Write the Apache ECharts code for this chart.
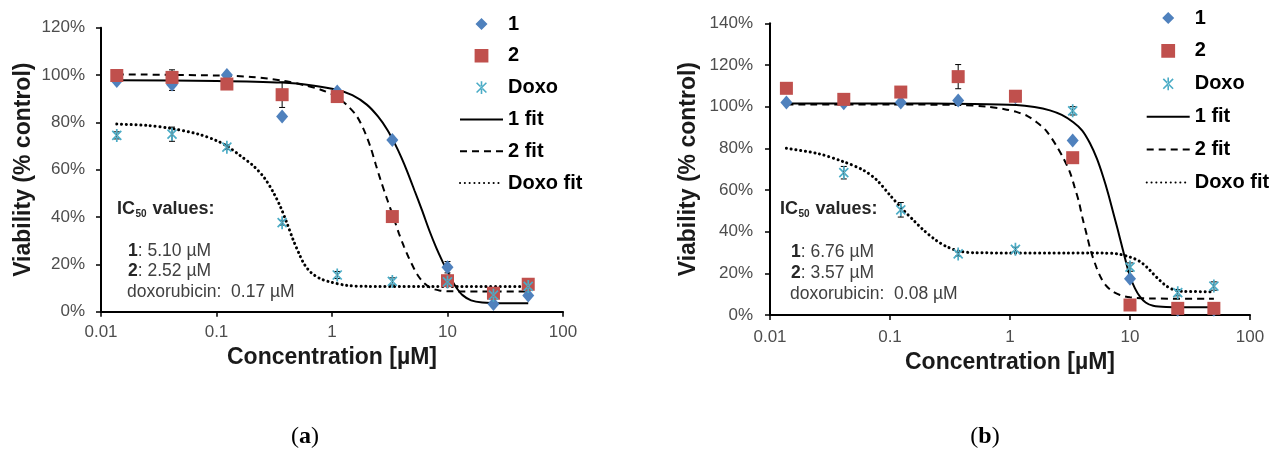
<!DOCTYPE html>
<html>
<head>
<meta charset="utf-8">
<script src="https://cdn.jsdelivr.net/npm/echarts@6/dist/echarts.min.js"></script>
<style>
html,body{margin:0;padding:0;background:#fff;}
#c{width:1271px;height:454px;}
</style>
</head>
<body>
<div id="c"></div>
<script>
// ---------- data ----------
const conc = [0.0137, 0.0412, 0.123, 0.37, 1.11, 3.33, 10, 25, 50];
const xTickLabels = ['0.01', '0.1', '1', '10', '100'];
const legendNames = ['1', '2', 'Doxo', '1 fit', '2 fit', 'Doxo fit'];

// panel (a)
const a1    = [97.5, 96, 100, 82.5, 93, 72.5, 18.8, 3.3, 6.8];
const a2    = [99.8, 99, 96.2, 91.7, 90.9, 40.2, 13.1, 7.8, 11.6];
const aDoxo = [74.5, 75, 69.5, 37.6, 15.5, 12.8, 12.6, 7.0, 10.7];
const errA1    = [0, 2.5, 0, 0, 0, 0, 2.4, 0, 0];
const errA2    = [0, 3.2, 0, 5.4, 0, 0, 0, 0, 0];
const errADoxo = [1.5, 3, 1, 1, 1.5, 1.5, 1.5, 1.5, 1.5];
const fitA1 = [[0.0137,97.8],[0.1,97.5],[0.37,96.8],[0.7,95.5],[1.1,93.8],[1.5,91.5],[2,87.5],[2.5,82.5],[3,77],[3.5,71],[4,65],[4.5,59],[5.2,51],[6,43],[7,34],[8,27],[9,21.5],[10,17],[11,13],[12,10],[13.5,7],[16,4.8],[20,3.9],[30,3.6],[50,3.6]];
const fitA2 = [[0.0137,100.3],[0.1,99.8],[0.2,99.2],[0.38,97.6],[0.6,95.5],[0.8,93.8],[1.1,90.8],[1.4,86.5],[1.65,82.4],[1.9,76.5],[2.15,69.7],[2.4,62],[2.62,56],[3,47.5],[3.4,40],[3.8,33],[4.2,27.5],[4.6,23],[5.1,18.5],[5.6,15],[6.2,12.3],[7.2,10],[8.5,9],[11,8.6],[50,8.5]];
const fitADoxo = [[0.0137,79.3],[0.025,78.7],[0.04,77.5],[0.07,75],[0.1,72.3],[0.123,70],[0.16,66],[0.21,61.5],[0.26,56.5],[0.31,50.5],[0.36,44],[0.406,37.6],[0.46,30.5],[0.53,23.5],[0.58,19.8],[0.66,16.5],[0.79,14],[0.96,12.6],[1.35,11.1],[2,10.7],[50,10.6]];

// panel (b)
const b1    = [102, 101.6, 102, 103, 104.5, 83.7, 17.4, 2.5, 2.5];
const b2    = [108.8, 103.5, 107, 114.4, 105, 75.5, 4.8, 3.2, 3.2];
const bDoxo = [null, 68.3, 50.5, 29.3, 31.5, 98, 23, 10.7, 13.9];
const errB1    = [0, 0, 0, 0, 0, 0, 0, 0, 0];
const errB2    = [0, 2.5, 0, 5.8, 0, 0, 0, 0, 0];
const errBDoxo = [0, 3, 3.5, 1, 1, 2, 2, 1.5, 2];
const fitB1 = [[0.0137,101.5],[0.1,101.5],[0.5,101.3],[1.13,100.8],[1.6,99.8],[2.15,98.2],[2.7,96],[3.37,92.5],[4,88.5],[4.64,82.4],[5.3,75],[6,66],[6.6,58],[7.26,49],[7.9,41],[8.53,33.5],[9.2,26],[10,18.5],[11,12.8],[12.1,8.8],[13.5,6],[15.6,4.4],[20,3.8],[30,3.7],[50,3.7]];
const fitB2 = [[0.0137,101],[0.1,101],[0.38,100.8],[0.64,100],[0.9,98.8],[1.13,97.5],[1.4,95.5],[1.67,92.5],[2,88.5],[2.45,81],[2.8,75],[3.16,68.5],[3.45,61.5],[3.75,54.4],[4,47],[4.36,38.5],[4.7,31],[5.28,22.5],[5.8,17.3],[6.39,13.8],[7.2,11.2],[8.25,9.6],[10,8.5],[15,7.9],[50,7.8]];
const fitBDoxo = [[0.0137,80],[0.025,77.5],[0.0408,73.6],[0.06,69.5],[0.0775,64.8],[0.1,57.5],[0.129,50.4],[0.16,45],[0.19,40.8],[0.24,36],[0.297,32.8],[0.38,30.6],[0.5,29.9],[1,29.8],[3,29.8],[6,29.7],[7.75,29.4],[10,27.8],[12,25.8],[13.8,23],[15.6,19.8],[17.8,16.5],[20,14],[23,12.2],[28,11.3],[50,11.2]];

// ---------- styles ----------
const FONT = '"Liberation Sans", Arial, sans-serif';
const SERIF = '"Liberation Serif", "Times New Roman", serif';
const C1 = '#4F81BD', C2 = '#C0504D', C3 = '#4BACC6';
const ASTERISK = 'path://M-0.85,-6.5 L0.85,-6.5 L0.85,6.5 L-0.85,6.5 Z M-5.1,-3.9 L3.9,5.1 L5.1,3.9 L-3.9,-5.1 Z M-3.9,5.1 L5.1,-3.9 L3.9,-5.1 L-5.1,3.9 Z';
// legend icons drawn inside a 43x14 box (corner anchors keep the box size)
const BOX = 'M0,0 L0.01,0 L0,0.01 Z M43,14 L42.99,14 L43,13.99 Z ';
const legendIcons = {
  '1': 'path://' + BOX + 'M21.5,1 L27.5,7 L21.5,13 L15.5,7 Z',
  '2': 'path://' + BOX + 'M14.6,0.2 L28.4,0.2 L28.4,13.8 L14.6,13.8 Z',
  'Doxo': 'path://' + BOX + 'M20.7,0.6 L22.3,0.6 L22.3,13.4 L20.7,13.4 Z M16.03,2.67 L25.83,12.47 L26.97,11.33 L17.17,1.53 Z M16.03,11.33 L25.83,1.53 L26.97,2.67 L17.17,12.47 Z'
};

function pts(vals) {
  return conc.map((c, i) => [c, vals[i]]).filter(p => p[1] !== null && p[1] !== undefined);
}
function errPts(vals, errs) {
  return conc.map((c, i) => [c, vals[i], errs[i]]).filter(p => p[1] !== null && p[2] > 0);
}
function errorRender(params, api) {
  const x = api.value(0), y = api.value(1), e = api.value(2);
  const p1 = api.coord([x, y + e]), p2 = api.coord([x, y - e]);
  const cap = 3;
  const st = { stroke: '#000', lineWidth: 1 };
  return { type: 'group', children: [
    { type: 'line', shape: { x1: p1[0], y1: p1[1], x2: p2[0], y2: p2[1] }, style: st },
    { type: 'line', shape: { x1: p1[0] - cap, y1: p1[1], x2: p1[0] + cap, y2: p1[1] }, style: st },
    { type: 'line', shape: { x1: p2[0] - cap, y1: p2[1], x2: p2[0] + cap, y2: p2[1] }, style: st }
  ]};
}

function panelSeries(idx, v1, v2, v3, e1, e2, e3, f1, f2, f3) {
  const ax = { xAxisIndex: idx, yAxisIndex: idx };
  const lineBase = Object.assign({ type: 'line', symbol: 'none', showSymbol: false, smooth: 0.3, z: 2, silent: true }, ax);
  return [
    Object.assign({}, lineBase, { name: '1 fit', data: f1, lineStyle: { color: '#000', width: 2, type: 'solid' }, itemStyle: { color: '#000' } }),
    Object.assign({}, lineBase, { name: '2 fit', data: f2, lineStyle: { color: '#000', width: 2, type: [7, 5] }, itemStyle: { color: '#000' } }),
    Object.assign({}, lineBase, { name: 'Doxo fit', data: f3, lineStyle: { color: '#000', width: 3, type: [0.1, 4.7], cap: 'round' }, itemStyle: { color: '#000' } }),
    Object.assign({ type: 'custom', name: 'err1', renderItem: errorRender, data: errPts(v1, e1), encode: { x: 0, y: 1 }, z: 3, silent: true }, ax),
    Object.assign({ type: 'custom', name: 'err2', renderItem: errorRender, data: errPts(v2, e2), encode: { x: 0, y: 1 }, z: 3, silent: true }, ax),
    Object.assign({ type: 'custom', name: 'err3', renderItem: errorRender, data: errPts(v3, e3), encode: { x: 0, y: 1 }, z: 3, silent: true }, ax),
    Object.assign({ type: 'scatter', name: '1', data: pts(v1), symbol: 'diamond', symbolSize: [12, 14], itemStyle: { color: C1, opacity: 1 }, z: 4 }, ax),
    Object.assign({ type: 'scatter', name: '2', data: pts(v2), symbol: 'rect', symbolSize: 13, itemStyle: { color: C2, opacity: 1 }, z: 5 }, ax),
    Object.assign({ type: 'scatter', name: 'Doxo', data: pts(v3), symbol: ASTERISK, symbolSize: 13, symbolKeepAspect: true, itemStyle: { color: C3, opacity: 1 }, z: 6 }, ax)
  ];
}

function xAxisCfg(idx, margin, gap) {
  return {
    gridIndex: idx, type: 'log', logBase: 10, min: 0.01, max: 100,
    name: 'Concentration [µM]', nameLocation: 'middle', nameGap: gap,
    nameTextStyle: { fontFamily: FONT, fontSize: 23, fontWeight: 'bold', color: '#1a1a1a' },
    axisLine: { show: true, onZero: false, lineStyle: { color: '#000', width: 2 } },
    axisTick: { show: true, length: 5, lineStyle: { color: '#000', width: 1.5 } },
    minorTick: { show: false },
    splitLine: { show: false },
    axisLabel: { margin: margin, fontFamily: FONT, fontSize: 17, color: '#4d4d4d',
      formatter: v => xTickLabels[Math.round(Math.log10(v)) + 2] }
  };
}
function yAxisCfg(idx, max, margin, gap) {
  return {
    gridIndex: idx, type: 'value', min: 0, max: max, interval: 20,
    name: 'Viability (% control)', nameLocation: 'middle', nameGap: gap,
    nameTextStyle: { fontFamily: FONT, fontSize: 23, fontWeight: 'bold', color: '#1a1a1a' },
    axisLine: { show: true, lineStyle: { color: '#000', width: 2 } },
    axisTick: { show: true, length: 5, lineStyle: { color: '#000', width: 1.5 } },
    splitLine: { show: false },
    axisLabel: { margin: margin, fontFamily: FONT, fontSize: 17, color: '#4d4d4d', formatter: v => v + '%' }
  };
}
function legendCfg(left, top, gap) {
  return {
    show: true, orient: 'vertical', left: left, top: top, itemGap: gap,
    itemWidth: 43, itemHeight: 14, padding: 5, selectedMode: false, symbolKeepAspect: true,
    data: legendNames.map(n => legendIcons[n]
      ? { name: n, icon: legendIcons[n] }
      : { name: n, itemStyle: { opacity: 0, color: 'rgba(0,0,0,0)', borderWidth: 0 } }),
    textStyle: { fontFamily: FONT, fontSize: 20, fontWeight: 'bold', color: '#000', lineHeight: 20 }
  };
}
function txt(x, y, text, size, weight, color, extra) {
  return Object.assign({ type: 'text', x: x, y: y, silent: true,
    style: Object.assign({ text: text, fontFamily: FONT, fontSize: size, fontWeight: weight, fill: color,
      align: 'left', verticalAlign: 'middle', textAlign: 'left', textVerticalAlign: 'middle' }, extra || {}) });
}
function icBlock(x, y0, lines) {
  const out = [
    txt(x, y0, 'IC', 18, 'bold', '#262626'),
    txt(x + 18.5, y0 + 5, '50', 10, 'bold', '#262626'),
    txt(x + 35.5, y0, 'values:', 18, 'bold', '#262626')
  ];
  const rich = { b: { fontFamily: FONT, fontSize: 17.5, fontWeight: 'bold', fill: '#262626', color: '#262626' } };
  out.push(txt(x + 11, lines[0][0], lines[0][1], 17.5, 'normal', '#404040', { rich: rich }));
  out.push(txt(x + 11, lines[1][0], lines[1][1], 17.5, 'normal', '#404040', { rich: rich }));
  out.push(txt(x + 10, lines[2][0], lines[2][1], 17.5, 'normal', '#404040', { rich: rich }));
  return out;
}
function panelLabel(x, letter) {
  return txt(x, 437, '({b|' + letter + '})', 24, 'normal', '#000', { fontFamily: SERIF, align: 'center', textAlign: 'center',
    rich: { b: { fontFamily: SERIF, fontSize: 24, fontWeight: 'bold' } } });
}

const option = {
  backgroundColor: '#fff',
  animation: false,
  grid: [
    { left: 101, top: 27.7, width: 462, height: 284, containLabel: false, outerBoundsMode: 'none' },
    { left: 770, top: 23.3, width: 480, height: 291.7, containLabel: false, outerBoundsMode: 'none' }
  ],
  xAxis: [xAxisCfg(0, 12, 34), xAxisCfg(1, 14, 35)],
  yAxis: [yAxisCfg(0, 120, 16, 66), yAxisCfg(1, 140, 17, 70)],
  legend: [legendCfg(454, 9, 11.8), legendCfg(1140.7, 3, 12.9)],
  series: [].concat(
    panelSeries(0, a1, a2, aDoxo, errA1, errA2, errADoxo, fitA1, fitA2, fitADoxo),
    panelSeries(1, b1, b2, bDoxo, errB1, errB2, errBDoxo, fitB1, fitB2, fitBDoxo)
  ),
  graphic: [].concat(
    icBlock(117, 209, [[251, '{b|1}: 5.10 µM'], [271, '{b|2}: 2.52 µM'], [292, 'doxorubicin:  0.17 µM']]),
    icBlock(780, 209.5, [[252, '{b|1}: 6.76 µM'], [273, '{b|2}: 3.57 µM'], [294.5, 'doxorubicin:  0.08 µM']]),
    [panelLabel(305, 'a'), panelLabel(985, 'b')]
  )
};

const chart = echarts.init(document.getElementById('c'), null, { renderer: 'canvas' });
chart.setOption(option);
</script>
</body>
</html>
